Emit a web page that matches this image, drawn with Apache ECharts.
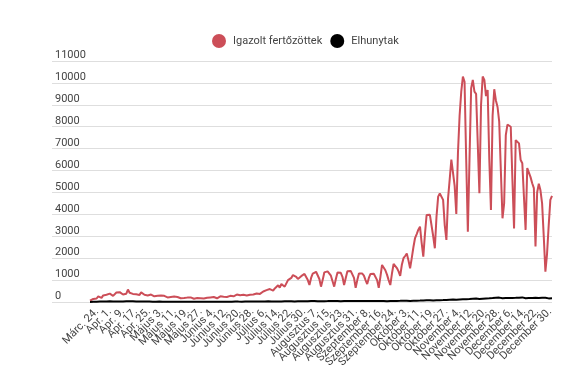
<!DOCTYPE html>
<html><head><meta charset="utf-8">
<script src="https://cdn.jsdelivr.net/npm/echarts@6/dist/echarts.min.js"></script>
<style>html,body{margin:0;padding:0;background:#fff}#c{width:575px;height:389px}</style>
</head><body><div id="c"></div>
<script>
// Month names as they appear in the tick labels, with the days present in the data
const monthNames = ['Márc.', 'Apr.', 'Május', 'Június', 'Július', 'Augusztus', 'Szeptember', 'Október', 'November', 'December'];
const monthFirstDay = [24, 1, 1, 1, 1, 1, 1, 1, 1, 1];
const monthLastDay = [31, 30, 31, 30, 31, 31, 30, 31, 30, 30];
const missingDates = ['Szeptember 30.'];
const labelStep = 8;

const seriesNames = ['Igazolt fertőzöttek', 'Elhunytak'];

const cases = [
  60, 90, 140, 210, 160, 260, 230,
  190, 300, 270, 330, 250, 380, 310,
  280, 330, 430, 360, 450, 400, 340,
  430, 380, 570, 420, 470, 370, 430,
  350, 400, 320, 440, 370, 330, 380,
  300, 380, 340, 290, 260, 320, 280,
  250, 300, 240, 280, 250, 210, 270,
  230, 200, 250, 190, 230, 210, 170,
  220, 180, 240, 200, 160, 210, 190,
  150, 200, 180, 230, 170, 210, 160,
  200, 190, 160, 210, 180, 230, 190,
  170, 220, 260, 200, 240, 280, 230,
  240, 280, 310, 260, 300, 340, 280,
  310, 270, 330, 380, 300, 360, 330,
  400, 340, 420, 390, 450, 370, 440,
  480, 410, 540, 470, 590, 650, 520,
  620, 700, 760, 660, 820, 770, 700,
  850, 1000, 950, 1100, 1230, 1180, 1150,
  1050, 1120, 1180, 1250, 1280, 1200, 1000,
  780, 1100, 1300, 1390, 1380, 1300, 1050,
  700, 1000, 1350, 1430, 1400, 1330, 1200, 950,
  700, 1050, 1350, 1380, 1330, 1150,
  775, 1100, 1400, 1460, 1420, 1350, 1100,
  650, 1000, 1300, 1340, 1300, 1200, 1000,
  820, 1100, 1280, 1310, 1290, 1250, 1000,
  650, 1150, 1690, 1600, 1450, 1250, 1000,
  775, 1300, 1735, 1650, 1550, 1400,
  1190, 1700, 2000, 2100, 2210, 1900,
  1540, 2000, 2500, 2920, 3100, 3300, 3440, 2700,
  2070, 3100, 3970, 4000, 3980, 3930, 3000,
  2450, 3900, 4810, 4950, 5000, 4660, 3500,
  2830, 4730, 5600, 6500, 6560, 5300,
  4020, 6800, 8500, 9600, 10290, 10050, 6500,
  3210, 6500, 9760, 10140, 9600, 9500, 9450,
  4960, 9000, 10290, 10140, 9400, 9680, 6500,
  4200, 8500, 9710, 9200, 8900, 8230, 6000,
  3820, 4500, 7620, 8100, 8050, 8000, 5600,
  3360, 7390, 7400, 7240, 6480, 6330, 4800,
  3290, 6110, 6030, 5700, 5420, 5200,
  2530, 5000, 5400, 5100, 4500, 3000,
  1385, 2200, 3500, 4660, 4840
];

const deaths = [
  4, 6, 8, 12, 10, 16, 18,
  22, 24, 20, 27, 25, 29, 22,
  28, 31, 25, 34, 27, 30, 22,
  24, 33, 28, 30, 26, 31, 25,
  20, 27, 24, 30, 22, 18, 25,
  20, 23, 19, 15, 21, 17, 14,
  18, 16, 12, 15, 13, 11, 14,
  12, 10, 14, 11, 9, 13, 10,
  12, 9, 11, 14, 10, 8, 12,
  10, 13, 9, 11, 15, 10, 12,
  14, 11, 9, 13, 15, 12, 10,
  13, 16, 12, 14, 18, 15, 13,
  16, 19, 14, 17, 20, 16, 18,
  21, 17, 19, 23, 18, 20, 24,
  22, 19, 25, 21, 24, 26, 20,
  23, 27, 24, 29, 26, 22, 28,
  25, 30, 27, 32, 28, 26, 31,
  29, 33, 30, 35, 31, 28, 34,
  32, 36, 30, 38, 34, 31, 37,
  35, 40, 36, 42, 38, 34, 41,
  37, 43, 39, 45, 40, 36, 44,
  39, 46, 42, 48, 43, 38, 45,
  41, 47, 43, 50, 45, 40, 46,
  42, 48, 44, 51, 46, 41, 47,
  43, 49, 45, 52, 47, 42, 48,
  40, 46, 43, 50, 45, 39, 47,
  44, 52, 48, 55, 50, 45, 53,
  50, 58, 54, 62, 56, 51, 60,
  57, 66, 61, 70, 64, 58, 68,
  65, 76, 70, 82, 74, 68, 80,
  78, 90, 84, 96, 88, 82, 95,
  92, 108, 100, 115, 105, 98, 112,
  110, 128, 120, 138, 125, 118, 135,
  132, 150, 140, 160, 145, 138, 155,
  150, 172, 160, 185, 168, 158, 178,
  170, 190, 175, 200, 182, 168, 188,
  178, 195, 182, 205, 188, 172, 190,
  180, 198, 185, 210, 190, 175, 195,
  182, 200, 188, 212, 190, 170, 185,
  172, 190, 175, 195, 180, 165, 182,
  170
];

const yTicks = [0, 1000, 2000, 3000, 4000, 5000, 6000, 7000, 8000, 9000, 10000, 11000];

// Build the date categories
const categories = [];
monthNames.forEach((m, mi) => {
  for (let d = monthFirstDay[mi]; d <= monthLastDay[mi]; d++) {
    const label = m + ' ' + d + '.';
    if (!missingDates.includes(label)) categories.push(label);
  }
});

const chart = echarts.init(document.getElementById('c'), null, {renderer: 'canvas'});
const FONT = 'Roboto, "Noto Sans", sans-serif';
const RED = '#cc4e58';
chart.setOption({
  animation: false,
  backgroundColor: '#fff',
  textStyle: {fontFamily: FONT},
  legend: {
    top: 29, left: 207,
    icon: 'circle', itemWidth: 14, itemHeight: 14, itemGap: 8,
    textStyle: {fontSize: 11, color: '#444', fontFamily: FONT, padding: [0, 0, 0, 2]},
    data: seriesNames
  },
  grid: [
    {left: 90, right: 23, top: 61, bottom: 87},   // data
    {left: 52, right: 23, top: 61, bottom: 87},   // gridlines + y labels
    {left: 97, right: 25, top: 61, bottom: 87}    // date labels
  ],
  xAxis: [
    {type: 'category', gridIndex: 0, data: categories, boundaryGap: false, show: false},
    {type: 'value', gridIndex: 1, show: false},
    {type: 'category', gridIndex: 2, data: categories, boundaryGap: false,
     axisLine: {show: false}, axisTick: {show: false}, splitLine: {show: false},
     axisLabel: {interval: 0, rotate: 45, fontSize: 11, color: '#444', fontFamily: FONT, margin: 8,
                 formatter: (v, i) => (i % labelStep === 0 ? v : '')}}
  ],
  yAxis: [
    {type: 'value', gridIndex: 0, min: yTicks[0], max: yTicks[yTicks.length - 1], show: false},
    {type: 'value', gridIndex: 1, min: yTicks[0], max: yTicks[yTicks.length - 1], interval: yTicks[1] - yTicks[0],
     axisLine: {show: false}, axisTick: {show: false},
     splitLine: {show: true, lineStyle: {color: '#dedede', width: 1}},
     axisLabel: {inside: true, verticalAlign: 'bottom', fontSize: 11, color: '#444', fontFamily: FONT, margin: 3,
                 formatter: v => String(v)}},
    {type: 'value', gridIndex: 2, show: false}
  ],
  series: [
    {name: seriesNames[0], type: 'line', xAxisIndex: 0, yAxisIndex: 0, data: cases,
     showSymbol: false, symbol: 'circle', lineStyle: {color: RED, width: 2}, itemStyle: {color: RED}},
    {name: seriesNames[1], type: 'line', xAxisIndex: 0, yAxisIndex: 0, data: deaths,
     showSymbol: false, symbol: 'circle', lineStyle: {color: '#000', width: 2}, itemStyle: {color: '#000'}}
  ]
});
</script>
</body></html>
